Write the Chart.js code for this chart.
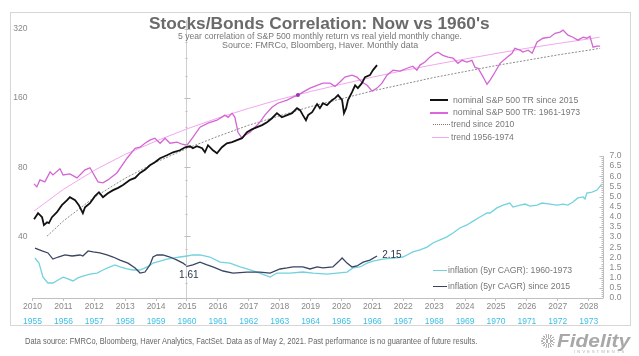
<!DOCTYPE html>
<html><head><meta charset="utf-8">
<script src="https://cdn.jsdelivr.net/npm/chart.js@4"></script>
<style>
html,body{margin:0;padding:0;background:#fff;}
#wrap{position:relative;width:639px;height:356px;overflow:hidden;font-family:"Liberation Sans",Arial,sans-serif;}
#frame{position:absolute;left:10px;top:12px;width:621px;height:314px;border:1px solid #d6d6d6;box-sizing:border-box;}
canvas{position:absolute;left:0;top:0;}
.t{position:absolute;white-space:nowrap;line-height:1;transform-origin:left center;}
.s{position:absolute;height:0;}
</style>
</head><body>
<div id="wrap">
<div id="frame"></div>
<canvas id="c" width="639" height="356"></canvas>
<div class="t" id="title" style="font-size:17px;font-weight:bold;color:#6a6a6a">Stocks/Bonds Correlation: Now vs 1960's</div>
<div class="t" id="sub1" style="font-size:9px;color:#777">5 year correlation of S&amp;P 500 monthly  return vs real yield monthly  change.</div>
<div class="t" id="sub2" style="font-size:9px;color:#777">Source: FMRCo, Bloomberg, Haver.  Monthly data</div>

<div class="s" style="left:430px;top:99px;width:18px;border-top:2px solid #111"></div>
<div class="t" id="lg1" style="font-size:8.7px;color:#777">nominal S&amp;P 500 TR since 2015</div>
<div class="s" style="left:430px;top:111.5px;width:18px;border-top:2px solid #dd66dd"></div>
<div class="t" id="lg2" style="font-size:8.7px;color:#777">nominal S&amp;P 500 TR: 1961-1973</div>
<div class="s" style="left:433px;top:124px;width:17px;border-top:1px dotted #777"></div>
<div class="t" id="lg3" style="font-size:8.7px;color:#777">trend since 2010</div>
<div class="s" style="left:432px;top:137px;width:17px;border-top:1px solid #f2a6ee"></div>
<div class="t" id="lg4" style="font-size:8.7px;color:#777">trend 1956-1974</div>

<div class="s" style="left:433px;top:270px;width:14px;border-top:1.5px solid #72d2de"></div>
<div class="t" id="lg5" style="font-size:8.7px;color:#777">inflation (5yr CAGR): 1960-1973</div>
<div class="s" style="left:433px;top:285.5px;width:14px;border-top:1.5px solid #3a4562"></div>
<div class="t" id="lg6" style="font-size:8.7px;color:#777">inflation (5yr CAGR) since 2015</div>

<div class="t" id="foot" style="font-size:8.6px;color:#666">Data source: FMRCo, Bloomberg, Haver Analytics, FactSet. Data as of May 2, 2021. Past performance is no guarantee of future results.</div>
<div style="position:absolute;left:541px;top:334px;width:14px;height:14px;border-radius:50%;background:repeating-conic-gradient(#b0b0b0 0 12deg,#fff 12deg 24deg);"></div>
<div class="t" id="fid" style="font-size:18px;font-weight:bold;font-style:italic;color:#a8a8a8">Fidelity</div>
<div class="t" id="inv" style="font-size:4px;letter-spacing:1.6px;color:#b8b8b8">INVESTMENTS</div>
</div>
<script>
// ---- data (year, value) ----
const yearLabels = [2010,2011,2012,2013,2014,2015,2016,2017,2018,2019,2020,2021,2022,2023,2024,2025,2026,2027,2028];
const oldYearLabels = [1955,1956,1957,1958,1959,1960,1961,1962,1963,1964,1965,1966,1967,1968,1969,1970,1971,1972,1973];
const leftTicks = [40,80,160,320];
const rightTicks = [0,0.5,1,1.5,2,2.5,3,3.5,4,4.5,5,5.5,6,6.5,7];

const spxSince2015 = [[2010.05,47.4],[2010.18,50.4],[2010.31,48.4],[2010.37,44.7],[2010.47,46],[2010.53,45.6],[2010.63,48.4],[2010.79,50.9],[2010.95,54.6],[2011.12,57.4],[2011.21,59.2],[2011.38,57.4],[2011.5,54.6],[2011.63,50.4],[2011.7,53.5],[2011.86,55.7],[2012.02,59.8],[2012.15,62.2],[2012.28,59.2],[2012.44,61.6],[2012.61,63.5],[2012.77,65],[2012.93,66.9],[2013.16,70.4],[2013.32,71.8],[2013.48,75.5],[2013.64,77.9],[2013.8,81.5],[2013.96,84],[2014.13,87.5],[2014.35,90.2],[2014.55,92.9],[2014.77,94.8],[2014.94,97.7],[2015.1,98.7],[2015.19,96.7],[2015.32,98.7],[2015.49,96.7],[2015.58,92.9],[2015.68,99.7],[2015.84,94.8],[2015.97,92],[2016.13,97.7],[2016.29,101.7],[2016.46,102.8],[2016.62,104.9],[2016.78,107],[2016.94,113.6],[2017.1,117],[2017.27,119.5],[2017.43,122],[2017.59,125.7],[2017.75,130.8],[2017.91,137.6],[2018.07,132],[2018.24,134.9],[2018.4,137.6],[2018.56,144.7],[2018.66,141.8],[2018.75,134.9],[2018.85,128.2],[2018.92,134.9],[2019.05,139],[2019.21,150.7],[2019.3,144.7],[2019.4,152],[2019.53,149],[2019.69,156.8],[2019.79,160],[2019.89,165],[2020.02,156.8],[2020.08,137.6],[2020.15,144.7],[2020.21,156.8],[2020.34,170],[2020.44,182],[2020.53,177],[2020.66,186],[2020.76,197.6],[2020.92,201.6],[2021.02,212],[2021.15,223]];

const spx1961_1973 = [[2010.05,67.6],[2010.14,65.6],[2010.24,70.4],[2010.4,69],[2010.57,76.3],[2010.66,74],[2010.89,78.7],[2010.99,74],[2011.21,74.8],[2011.44,71.8],[2011.7,77.9],[2011.86,79.5],[2012.12,69],[2012.28,68.3],[2012.44,70.4],[2012.73,75.5],[2013.06,87.5],[2013.32,96.7],[2013.48,97.7],[2013.64,101.7],[2013.8,104.9],[2013.96,107],[2014.13,101.7],[2014.29,107],[2014.45,101.7],[2014.68,102.8],[2014.84,100.7],[2015,99.7],[2015.19,108],[2015.42,119.5],[2015.68,124.4],[2015.97,128.2],[2016.23,134.9],[2016.33,132],[2016.46,137.6],[2016.55,132],[2016.65,113.6],[2016.78,107],[2016.88,110.3],[2017.04,113.6],[2017.2,119.5],[2017.36,125.7],[2017.52,134.9],[2017.75,146],[2017.94,152],[2018.24,156.8],[2018.43,161.6],[2018.59,165],[2018.75,170],[2018.98,177],[2019.21,182],[2019.4,186],[2019.63,186],[2019.79,180],[2019.95,188],[2020.11,197.6],[2020.34,201.6],[2020.5,197.6],[2020.66,188],[2020.83,182],[2020.99,171.7],[2021.15,177],[2021.31,186],[2021.47,201.6],[2021.67,212],[2021.89,210],[2022.12,216],[2022.31,220.5],[2022.44,212],[2022.54,223],[2022.7,230],[2022.86,241.5],[2023.03,251],[2023.12,254],[2023.28,246],[2023.45,241.5],[2023.61,239],[2023.77,227],[2023.9,234],[2024.06,230],[2024.22,234],[2024.32,218],[2024.42,216],[2024.55,201.6],[2024.64,191.6],[2024.71,184],[2024.81,191.6],[2024.97,208],[2025.13,227],[2025.36,241.5],[2025.52,251],[2025.61,264],[2025.78,259],[2025.87,254],[2026.04,259],[2026.17,251],[2026.33,281],[2026.52,292],[2026.75,295],[2026.91,307],[2027.07,310.5],[2027.17,316.8],[2027.33,301],[2027.49,295],[2027.65,286.5],[2027.82,295],[2027.94,292],[2028.04,298],[2028.14,267],[2028.27,270],[2028.37,270]];

const trendSince2010 = [[2010.47,40],[2011,46.6],[2012,59.1],[2013,71.6],[2014,84.1],[2015,96.6],[2016,109],[2017,122],[2018,134],[2019,147],[2020,159],[2021,172],[2022,184],[2023,197],[2024,209],[2025,222],[2026,234],[2027,247],[2028,259],[2028.37,264]];

const trend1956_1974 = [[2010.05,51.5],[2011,64],[2012,77.5],[2013,91],[2014,104],[2015,117.5],[2016,131],[2017,144.5],[2018,158],[2019,171],[2020,184],[2021,197.5],[2022,211],[2023,224],[2024,237],[2025,250.5],[2026,264],[2027,277],[2028,290],[2028.35,295]];

const highlightPoint = [[2018.59,165]];

const infl1960_1973 = [[2010.08,1.97],[2010.21,1.72],[2010.34,1.03],[2010.5,0.74],[2010.66,0.74],[2010.83,0.89],[2010.99,1.03],[2011.15,0.94],[2011.31,0.84],[2011.47,0.99],[2011.63,1.08],[2011.86,1.18],[2012.09,1.23],[2012.28,1.38],[2012.51,1.53],[2012.67,1.63],[2012.83,1.53],[2013.06,1.43],[2013.25,1.38],[2013.48,1.38],[2013.71,1.53],[2013.9,1.72],[2014.13,1.82],[2014.35,1.92],[2014.55,1.97],[2014.77,2.02],[2015,2.07],[2015.19,2.12],[2015.42,2.12],[2015.74,2.02],[2016.07,1.77],[2016.39,1.72],[2016.72,1.53],[2016.94,1.43],[2017.27,1.28],[2017.52,1.13],[2017.69,1.03],[2017.91,1.23],[2018.33,1.23],[2018.75,1.28],[2019.08,1.23],[2019.53,1.18],[2019.85,1.23],[2020.18,1.28],[2020.37,1.48],[2020.6,1.53],[2020.83,1.72],[2021.02,1.82],[2021.34,1.92],[2021.67,1.97],[2021.99,2.02],[2022.12,2.12],[2022.31,2.27],[2022.54,2.37],[2022.77,2.51],[2022.96,2.71],[2023.19,2.86],[2023.41,3.01],[2023.61,3.2],[2023.83,3.45],[2024.06,3.6],[2024.26,3.79],[2024.48,3.99],[2024.71,4.19],[2024.81,4.19],[2025.03,4.44],[2025.23,4.58],[2025.45,4.68],[2025.55,4.48],[2025.78,4.58],[2025.94,4.63],[2026.1,4.53],[2026.33,4.58],[2026.49,4.68],[2026.75,4.63],[2026.97,4.58],[2027.17,4.63],[2027.33,4.58],[2027.49,4.73],[2027.65,4.93],[2027.82,4.98],[2027.88,4.88],[2027.94,5.17],[2028.11,5.22],[2028.27,5.32],[2028.43,5.62]];

const inflSince2015 = [[2010.08,2.46],[2010.31,2.32],[2010.5,2.22],[2010.66,1.92],[2010.83,2.02],[2011.05,2.12],[2011.28,2.07],[2011.54,2.12],[2011.63,2.07],[2011.8,2.32],[2011.96,2.27],[2012.18,2.22],[2012.41,2.12],[2012.61,2.02],[2012.83,1.87],[2013.09,1.72],[2013.32,1.48],[2013.48,1.23],[2013.64,1.28],[2013.8,1.63],[2013.9,2.02],[2014.03,2.12],[2014.22,2.12],[2014.45,2.02],[2014.68,1.87],[2014.87,1.72],[2015,1.56],[2015.19,1.63],[2015.42,1.77],[2015.65,1.63],[2015.84,1.53],[2016.17,1.33],[2016.49,1.23],[2016.94,1.28],[2017.36,1.28],[2017.69,1.23],[2018.01,1.43],[2018.24,1.48],[2018.43,1.53],[2018.75,1.53],[2018.98,1.43],[2019.21,1.53],[2019.4,1.48],[2019.72,1.53],[2019.89,1.77],[2020.02,1.97],[2020.18,1.72],[2020.34,1.53],[2020.5,1.58],[2020.7,1.77],[2020.92,1.87],[2021.15,2.07]];

const labelStart = {year:2015.06, value:1.61, text:'1.61'};
const labelEnd = {year:2021.63, value:2.15, text:'2.15'};

// ---- chart ----
const pts = a => a.map(p => ({x:p[0], y:p[1]}));
const FONT = '"Liberation Sans", Arial, sans-serif';

const extras = {
  id:'extras',
  afterDatasetsDraw(chart){
    const {ctx, chartArea:a, scales} = chart;
    const x = scales.x, y = scales.y, y2 = scales.y2;
    ctx.save();
    ctx.strokeStyle = '#bdbdbd'; ctx.lineWidth = 1;
    const xr = Math.round(a.right) + 0.5;
    ctx.beginPath();
    ctx.moveTo(xr, y2.getPixelForValue(0)); ctx.lineTo(xr, y2.getPixelForValue(7));
    for (let i = 0; i <= 70; i++) {
      const py = Math.round(y2.getPixelForValue(i / 10)) + 0.5;
      const L = (i % 5 === 0) ? 4 : 2;
      ctx.moveTo(xr - L, py); ctx.lineTo(xr, py);
    }
    ctx.stroke();
    const x15 = Math.round(x.getPixelForValue(2015)) + 0.5;
    ctx.beginPath();
    leftTicks.forEach(v => { const py = Math.round(y.getPixelForValue(v)) + 0.5; ctx.moveTo(x15 - 3, py); ctx.lineTo(x15 + 3, py); });
    [25,30,35,50,60,70,100,120,140,200,240,280].forEach(v => { const py = Math.round(y.getPixelForValue(v)) + 0.5; ctx.moveTo(x15 - 2, py); ctx.lineTo(x15, py); });
    ctx.stroke();
    ctx.fillStyle = '#2b3650'; ctx.font = '10px ' + FONT; ctx.textAlign = 'center'; ctx.textBaseline = 'middle';
    ctx.fillText(labelStart.text, x.getPixelForValue(labelStart.year), y2.getPixelForValue(labelStart.value) + 10);
    ctx.fillText(labelEnd.text, x.getPixelForValue(labelEnd.year), y2.getPixelForValue(labelEnd.value) + 0.5);
    ctx.restore();
  }
};

const line = (data, color, width, axis, extra) => Object.assign({
  data: pts(data), borderColor: color, borderWidth: width, pointRadius: 0,
  fill: false, tension: 0, yAxisID: axis, xAxisID: 'x'
}, extra || {});

new Chart(document.getElementById('c'), {
  type: 'line',
  data: { datasets: [
    line(highlightPoint, '#9a33b0', 0, 'y', {showLine:false, pointRadius:2, pointBackgroundColor:'#9a33b0', pointBorderWidth:0}),
    line(spxSince2015, '#111111', 1.8, 'y'),
    line(inflSince2015, '#3a4562', 1.3, 'y2'),
    line(spx1961_1973, '#d466d4', 1.3, 'y'),
    line(infl1960_1973, '#72d2de', 1.3, 'y2'),
    line(trendSince2010, '#8a8a8a', 1, 'y', {borderDash:[2,1.5]}),
    line(trend1956_1974, '#f2a6ee', 1, 'y')
  ]},
  options: {
    responsive: false, animation: false, devicePixelRatio: 1,
    layout: { padding: { top: 20, bottom: 28, left: 0, right: 0 } },
    plugins: { legend: { display: false }, tooltip: { enabled: false } },
    scales: {
      x: {
        type: 'linear', position: 'bottom', min: 2010, max: 2028.45, weight: 1,
        afterBuildTicks: s => { s.ticks = yearLabels.map(v => ({value: v})); },
        afterFit: s => { s.height = 14; },
        ticks: { callback: v => String(v), color: '#888', font: {family: FONT, size: 8.5}, padding: 1, autoSkip: false, maxRotation: 0 },
        grid: { drawOnChartArea: true, color: c => (c.tick && c.tick.value === 2015) ? '#cfcfcf' : 'rgba(0,0,0,0)', tickColor: '#c0c0c0', tickLength: 3 },
        border: { display: true, color: '#c0c0c0' }
      },
      x2: {
        type: 'linear', position: 'bottom', min: 1955, max: 1973.45, weight: 2,
        afterBuildTicks: s => { s.ticks = oldYearLabels.map(v => ({value: v})); },
        afterFit: s => { s.height = 16; },
        ticks: { callback: v => String(v), color: '#3cbfe4', font: {family: FONT, size: 8.5}, padding: 5, autoSkip: false, maxRotation: 0 },
        grid: { display: false, drawTicks: false },
        border: { display: false }
      },
      y: {
        type: 'logarithmic', position: 'left', min: 21.5, max: 350.7,
        afterBuildTicks: s => { s.ticks = leftTicks.map(v => ({value: v})); },
        afterFit: s => { s.width = 32.5; },
        ticks: { callback: v => String(v), color: '#888', font: {family: FONT, size: 8.5}, padding: 5 },
        grid: { display: false, drawTicks: false },
        border: { display: false }
      },
      y2: {
        type: 'linear', position: 'right', min: 0, max: 13.70,
        afterBuildTicks: s => { s.ticks = rightTicks.map(v => ({value: v})); },
        afterFit: s => { s.width = 36.4; },
        ticks: { callback: v => Number(v).toFixed(1), color: '#888', font: {family: FONT, size: 8.5}, padding: 7 },
        grid: { display: false, drawTicks: false },
        border: { display: false }
      }
    }
  },
  plugins: [extras]
});

function place(id, left, cy, w) {
  const el = document.getElementById(id);
  el.style.left = left + 'px';
  const h = el.offsetHeight;
  el.style.top = (cy - h / 2) + 'px';
  if (w) { const s = w / el.offsetWidth; el.style.transform = 'scaleX(' + s + ')'; }
}
place('title', 149, 23, 341);
place('sub1', 178, 36, 284);
place('sub2', 222, 45, 196);
place('lg1', 453, 100, 125);
place('lg2', 453, 112.5, 127);
place('lg3', 451, 124.5, 63);
place('lg4', 451, 137, 63);
place('lg5', 448, 270.5, 124);
place('lg6', 448, 286, 122);
place('foot', 25, 341, 452);
place('fid', 557, 341, 73);
place('inv', 574, 352, 52);
</script>
</body></html>
